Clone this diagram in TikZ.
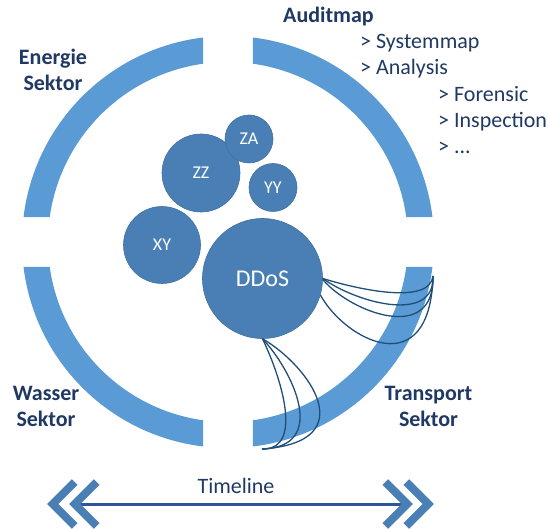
\documentclass[tikz,border=0pt]{standalone}
\usepackage{fontspec}
\setmainfont{Carlito}
\usepackage{tikz}

\definecolor{ringblue}{RGB}{91,155,213}
\definecolor{bubble}{RGB}{74,127,181}
\definecolor{bubbleline}{RGB}{65,113,160}
\definecolor{navy}{RGB}{32,56,100}
\definecolor{wire}{RGB}{31,78,121}
\definecolor{timeblue}{RGB}{47,85,151}

\begin{document}
\begin{tikzpicture}[x=1pt, y=-1pt,
  bubble/.style={circle, fill=bubble, draw=bubbleline, line width=0.6pt, inner sep=0pt,
    text=white, font=\fontsize{18}{18}\selectfont},
  sector/.style={anchor=base, align=center, text=navy, font=\bfseries\fontsize{22}{26}\selectfont},
  item/.style={anchor=base west, align=left, inner sep=0pt, text=navy, font=\fontsize{22}{26}\selectfont},
  wire/.style={draw=wire, line width=1.3pt},
  chevron/.style={draw=bubble, line width=8pt, miter limit=10}]

\useasboundingbox (0,0) rectangle (549,529);

% ring: four quarters with straight cuts between them
\begin{scope}[shift={(228,242)}]
\foreach \q in {0,90,180,270}
  \fill[ringblue] (\q+6.97:206) arc[start angle=\q+6.97, end angle=\q+83.03, radius=206]
    -- (\q+82.02:180) arc[start angle=\q+82.02, end angle=\q+7.98, radius=180] -- cycle;
\end{scope}

% bubbles
\node[bubble, minimum size=120pt, font=\fontsize{24}{24}\selectfont] (ddos) at (262.5,278.5) {DDoS};
\node[bubble, minimum size=77pt] (xy) at (162,245) {XY};
\node[bubble, minimum size=78pt] (zz) at (201,173) {ZZ};
\node[bubble, minimum size=48pt] (za) at (249,139) {ZA};
\node[bubble, minimum size=48pt] (yy) at (273,187.5) {YY};

% wires from DDoS onto the ring
\coordinate (ringE) at (433,276);
\coordinate (ringS) at (262,449);
\draw[wire] (ddos.0) .. controls (360,290) and (430,305) .. (ringE);
\draw[wire] (ddos.0) .. controls (355,302) and (435,325) .. (ringE);
\draw[wire] (ddos.-1) .. controls (350,312) and (435,345) .. (ringE);
\draw[wire] (ddos.-16) .. controls (345,340) and (430,385) .. (ringE);
\draw[wire] (ddos.south) .. controls (280,375) and (305,450) .. (ringS);
\draw[wire] (ddos.south) .. controls (292,370) and (330,447) .. (ringS);
\draw[wire] (ddos.south) .. controls (308,365) and (365,442) .. (ringS);

% sectors (base = last line)
\node[sector] (energie) at (53,91) {Energie\\Sektor};
\node[sector] (wasser) at (46,426.7) {Wasser\\Sektor};
\node[sector] (transport) at (428.5,426.7) {Transport\\Sektor};

% audit steps
\node[item, font=\bfseries\fontsize{22}{26}\selectfont] (auditmap) at (283,22.7) {Auditmap};
\node[item] (steps) at (360,75) {> Systemmap\\> Analysis};
\node[item] (checks) at (438,154) {> Forensic\\> Inspection\\> ...};

% timeline
\coordinate (tlL) at (78,504);
\coordinate (tlR) at (403,504);
\draw[timeblue, line width=3pt] (tlL) -- (tlR);
\foreach \x in {52.7,74.7}
  \draw[chevron] (\x+22,482) -- (\x,504) -- (\x+22,526);
\foreach \x in {407.3,428.3}
  \draw[chevron] (\x-22,482) -- (\x,504) -- (\x-22,526);
\node[anchor=base, text=navy, font=\fontsize{22}{22}\selectfont] (timeline) at (236,493) {Timeline};

\end{tikzpicture}
\end{document}
